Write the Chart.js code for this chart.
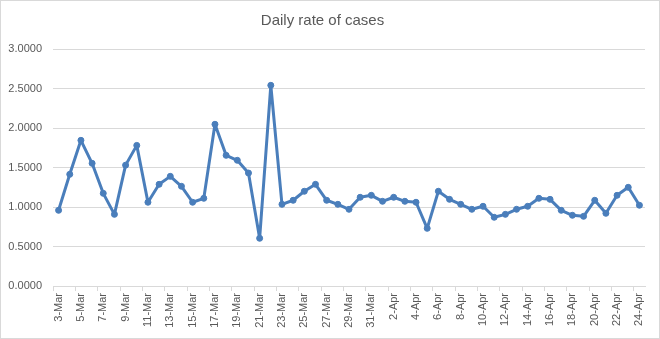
<!DOCTYPE html>
<html>
<head>
<meta charset="utf-8">
<script src="https://cdn.jsdelivr.net/npm/chart.js@4/dist/chart.umd.min.js"></script>
<style>
html,body{margin:0;padding:0;background:#fff;}
#wrap{width:660px;height:339px;position:relative;}
</style>
</head>
<body>
<div id="wrap"><canvas id="c" width="660" height="339"></canvas></div>
<script>
const categories = ["3-Mar","4-Mar","5-Mar","6-Mar","7-Mar","8-Mar","9-Mar","10-Mar","11-Mar","12-Mar","13-Mar","14-Mar","15-Mar","16-Mar","17-Mar","18-Mar","19-Mar","20-Mar","21-Mar","22-Mar","23-Mar","24-Mar","25-Mar","26-Mar","27-Mar","28-Mar","29-Mar","30-Mar","31-Mar","1-Apr","2-Apr","3-Apr","4-Apr","5-Apr","6-Apr","7-Apr","8-Apr","9-Apr","10-Apr","11-Apr","12-Apr","13-Apr","14-Apr","15-Apr","16-Apr","17-Apr","18-Apr","19-Apr","20-Apr","21-Apr","22-Apr","23-Apr","24-Apr"];
const dailyRate = [0.958,1.414,1.844,1.553,1.173,0.907,1.530,1.780,1.060,1.287,1.388,1.262,1.060,1.110,2.047,1.654,1.591,1.430,0.604,2.540,1.034,1.085,1.199,1.287,1.085,1.034,0.971,1.123,1.148,1.072,1.123,1.072,1.060,0.730,1.199,1.097,1.034,0.971,1.009,0.870,0.907,0.971,1.009,1.110,1.097,0.958,0.895,0.882,1.085,0.920,1.148,1.249,1.022];
const yTicks = [0,0.5,1,1.5,2,2.5,3];
const titleText = "Daily rate of cases";

const borderPlugin = {
  id:'outerBorder',
  afterDraw(chart){
    const c = chart.ctx;
    c.save();
    c.strokeStyle = '#d9d9d9';
    c.lineWidth = 1;
    c.strokeRect(0.5,0.5,chart.width-1,chart.height-1);
    c.restore();
  }
};

const lineColor = '#4a7ebb';
new Chart(document.getElementById('c'), {
  type:'line',
  data:{
    labels:categories,
    datasets:[{
      label:'Daily rate',
      data:dailyRate,
      borderColor:lineColor,
      backgroundColor:lineColor,
      borderWidth:3,
      borderJoinStyle:'round',
      borderCapStyle:'round',
      pointRadius:3,
      pointBorderWidth:1,
      pointBackgroundColor:lineColor,
      pointBorderColor:lineColor,
      tension:0,
      fill:false
    }]
  },
  options:{
    responsive:false,
    animation:false,
    devicePixelRatio:1,
    layout:{padding:{top:0,left:0,right:15,bottom:0}},
    plugins:{
      legend:{display:false},
      tooltip:{enabled:false},
      title:{
        display:true,
        text:titleText,
        color:'#595959',
        font:{family:'Liberation Sans, Arial, sans-serif',size:15,weight:'normal',lineHeight:1.2},
        padding:{top:12,bottom:19}
      }
    },
    scales:{
      x:{
        offset:true,
        grid:{
          offset:true,
          drawOnChartArea:false,
          drawTicks:true,
          tickLength:5,
          color:(ctx)=> (ctx.index % 2 === 0 ? '#d9d9d9' : 'rgba(0,0,0,0)')
        },
        border:{display:true,color:'#d9d9d9',width:1},
        ticks:{
          autoSkip:false,
          maxRotation:90,
          minRotation:90,
          padding:2,
          color:'#595959',
          font:{family:'Liberation Sans, Arial, sans-serif',size:11},
          callback:function(v,i){return i%2===0 ? categories[i] : '';}
        },
        afterFit:(s)=>{s.height=53;}
      },
      y:{
        min:0,
        max:3,
        afterBuildTicks:(s)=>{s.ticks = yTicks.map(v=>({value:v}));},
        grid:{color:'#d9d9d9',drawTicks:false,lineWidth:1},
        border:{display:false},
        ticks:{
          padding:11,
          color:'#595959',
          font:{family:'Liberation Sans, Arial, sans-serif',size:11},
          callback:(v)=>Number(v).toFixed(4)
        },
        afterFit:(s)=>{s.width=53;}
      }
    }
  },
  plugins:[borderPlugin]
});
</script>
</body>
</html>
